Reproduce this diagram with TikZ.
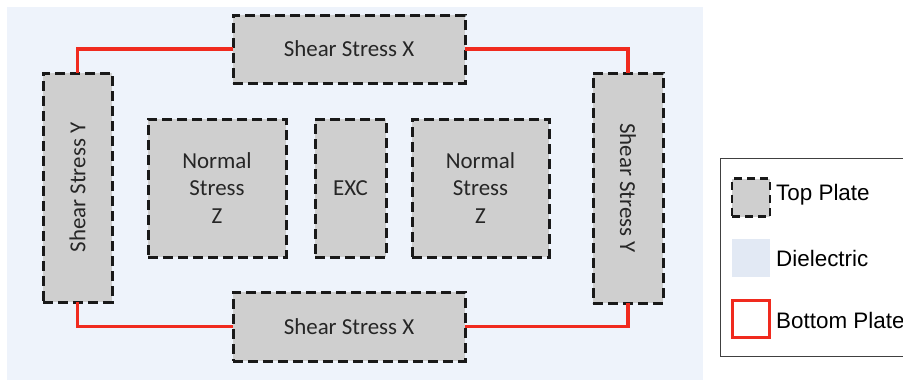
\documentclass[tikz,border=0pt]{standalone}
\usepackage{fontspec}
\setmainfont{Carlito}
\newfontfamily\legendfont{Liberation Sans}
\definecolor{diel}{HTML}{EEF3FB}
\definecolor{dielkey}{HTML}{E2E9F4}
\definecolor{plate}{HTML}{CFCFCF}
\definecolor{wire}{HTML}{F02A1E}
\definecolor{txt}{HTML}{262626}
\tikzset{
  platebox/.style={draw=black!90, fill=plate, line width=3bp, dash pattern=on 10bp off 5bp,
    inner sep=0pt, outer sep=0pt, align=center, text=txt, font=\fontsize{23}{28}\selectfont},
  wireline/.style={draw=wire, line width=3.2bp},
  legtext/.style={anchor=west, inner sep=0pt, text=black, font=\legendfont\fontsize{22.5}{25}\selectfont},
}
\begin{document}
\begin{tikzpicture}[x=1bp,y=-1bp]
\useasboundingbox (0,0) rectangle (903,381);
\clip (0,0) rectangle (903,381);
% dielectric background
\fill[diel] (7,7) rectangle (703,380);
% plates
\node[platebox, minimum width=232bp, minimum height=68bp] (sxt) at (349,49) {Shear Stress X};
\node[platebox, minimum width=232bp, minimum height=69bp] (sxb) at (349,326.5) {Shear Stress X};
\node[platebox, minimum width=69bp, minimum height=229bp] (syl) at (77.5,187.5) {};
\node[rotate=90, text=txt, font=\fontsize{23}{28}\selectfont] (sylt) at (syl.center) {Shear Stress Y};
\node[platebox, minimum width=70bp, minimum height=230bp] (syr) at (628,188) {};
\node[rotate=-90, text=txt, font=\fontsize{23}{28}\selectfont] (syrt) at (syr.center) {Shear Stress Y};
\node[platebox, minimum width=138bp, minimum height=138bp] (nl) at (217,188) {Normal\\Stress\\Z};
\node[platebox, minimum width=71bp, minimum height=138bp] (exc) at (350.5,188) {EXC};
\node[platebox, minimum width=137bp, minimum height=138bp] (nr) at (480.5,188) {Normal\\Stress\\Z};
% bottom plate wiring
\draw[wireline] (sxt.west) -| (syl.north);
\draw[wireline] (sxt.east) -| (syr.north);
\draw[wireline] (syl.south) |- (sxb.west);
\draw[wireline] (syr.south) |- (sxb.east);
% legend
\node[draw=black!75, line width=1.2bp, fill=white, minimum width=200bp, minimum height=198bp, anchor=north west, inner sep=0pt] (leg) at (720,158) {};
\node[draw=black!90, fill=plate, line width=2.8bp, dash pattern=on 8bp off 5bp, minimum size=38bp, inner sep=0pt] (k1) at (751,197.5) {};
\node[fill=dielkey, minimum size=38bp, inner sep=0pt] (k2) at (751,257.5) {};
\node[draw=wire, fill=white, line width=2.6bp, minimum size=37bp, inner sep=0pt] (k3) at (751,319) {};
\node[legtext] (t1) at (776,195) {Top Plate};
\node[legtext] (t2) at (776,258) {Dielectric};
\node[legtext] (t3) at (776,320) {Bottom Plate};
\end{tikzpicture}
\end{document}
